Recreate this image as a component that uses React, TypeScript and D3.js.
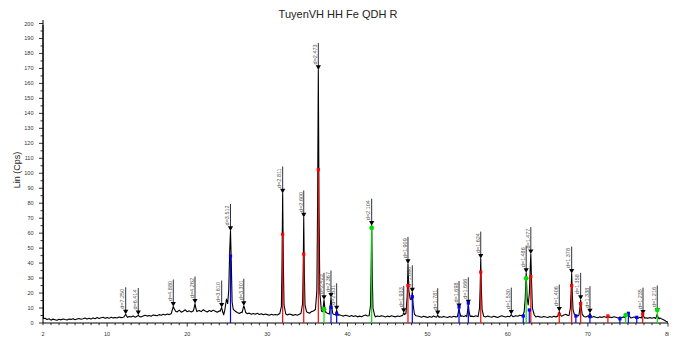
import React from 'react';
import * as d3 from 'd3';

const TITLE = 'TuyenVH HH Fe QDH R';
const Y_LABEL = 'Lin (Cps)';
const xTickLabels = [2, 10, 20, 30, 40, 50, 60, 70, 80];
const yTickLabels = [0, 10, 20, 30, 40, 50, 60, 70, 80, 90, 100, 110, 120, 130, 140, 150, 160, 170, 180, 190, 200];

// scan start (detector overflow at the first step)
const scanStart: [number, number][] = [[2.0, 199], [2.06, 3.0]];

// background counts sampled every 0.25 deg from 2.25 to 80
const backgroundStart = 2.25;
const backgroundStep = 0.25;
const backgroundCps = [
  3.2, 2.4, 2.8, 1.9, 2.6, 2.2, 1.8, 2.5, 2.1, 2.7,
  2.3, 2.0, 2.6, 2.4, 2.9, 2.2, 2.7, 3.0, 2.5, 2.8,
  3.3, 2.6, 3.1, 2.7, 3.4, 2.9, 3.6, 3.0, 3.5, 3.8,
  3.2, 3.6, 3.1, 3.9, 3.4, 3.7, 3.3, 4.0, 3.6, 3.8,
  4.2, 3.7, 4.4, 4.0, 4.6, 3.9, 4.3, 4.8, 4.1, 4.7,
  5.2, 4.6, 5.0, 4.5, 5.4, 5.1, 4.8, 5.6, 5.2, 5.8,
  5.4, 6.0, 5.6, 6.2,
  7.0, 8.2, 7.4, 8.6, 7.2, 7.9, 8.8, 7.5, 8.1, 7.3,
  8.5, 9.1, 7.8, 8.4, 7.6, 8.9, 8.0, 7.4, 8.3, 7.7,
  8.6, 7.9, 7.2, 8.0,
  7.4, 8.0, 8.6, 9.0, 9.0, 8.5, 8.0, 7.8, 7.0, 6.4,
  7.2, 7.8, 7.0, 6.2, 6.6, 5.8, 6.4, 5.9, 6.5, 5.7,
  6.2, 5.5, 6.0, 5.6, 5.2, 5.8, 5.3, 5.7,
  5.4, 6.2, 5.8, 6.6, 5.9, 5.3, 6.0, 5.6, 5.1, 5.7,
  5.2, 5.8, 6.3, 5.5, 6.8, 7.2, 6.5, 7.6, 8.0, 8.8,
  9.0, 8.2, 7.0, 6.4, 7.1, 6.5, 5.8, 5.2, 5.9, 5.4,
  4.9, 5.5, 5.0, 4.6, 5.2, 4.8,
  4.4, 5.0, 4.3, 4.8, 4.1, 4.6, 4.2, 4.9, 5.3, 4.7,
  4.5, 5.0, 4.4, 4.1, 4.7, 4.3, 4.9, 4.5, 4.0, 4.6,
  4.2, 4.8, 4.4, 4.1, 4.7, 4.3, 4.9, 5.4,
  6.0, 6.5, 6.0, 5.2, 4.6, 4.1, 4.7, 4.3, 3.9, 4.5,
  4.1, 3.7, 4.3, 3.9, 4.6, 4.0, 3.6, 4.2, 3.8, 4.4,
  4.0, 3.7, 4.3, 3.9, 4.5, 4.1, 4.6, 4.2,
  4.8, 4.4, 4.9, 4.3, 4.0, 4.6, 4.2, 4.8, 4.4, 4.1,
  3.8, 4.4, 4.0, 4.6, 4.2, 3.9, 4.5, 4.1, 3.7, 4.3,
  4.8, 4.4, 4.0, 4.5, 4.1, 3.8, 4.4, 4.9, 4.5, 5.2,
  4.8, 5.5,
  5.8, 6.0, 6.2, 5.2, 4.6, 4.0, 4.5, 4.1, 3.8, 4.4,
  4.0, 3.7, 4.3, 3.9, 4.5, 4.1, 4.7, 5.0, 4.6, 5.4,
  5.8, 5.0, 5.6, 5.2, 4.8, 5.3, 4.6, 4.2, 4.8, 4.4,
  4.0, 4.6,
  4.1, 3.8, 4.4, 3.9, 3.5, 4.1, 3.7, 4.3, 3.9, 3.5,
  4.0, 3.6, 4.2, 3.8, 3.4, 4.0, 3.6, 4.1, 3.7, 3.3,
  3.9, 3.5, 4.0, 3.6, 3.2, 3.8, 3.4, 3.9, 3.5, 3.1,
  3.6, 3.2, 3.7, 3.3, 2.9, 3.4, 2.6, 2.0, 1.2, 0.5,
];

// diffraction peak profiles [2theta, cps]
const peakProfiles: [number, number][][] = [
  [[12.1, 4.0], [12.22, 5.0], [12.32, 5.8], [12.42, 4.8], [12.55, 3.8]],
  [[13.7, 4.3], [13.8, 4.8], [13.89, 5.3], [13.98, 4.6], [14.1, 4.2]],
  [[18.0, 6.2], [18.15, 9.0], [18.26, 11.0], [18.38, 9.5], [18.55, 7.8]],
  [[20.75, 8.0], [20.88, 10.5], [20.97, 13.0], [21.07, 10.0], [21.2, 7.6]],
  [[24.1, 7.8], [24.2, 9.2], [24.3, 10.3], [24.42, 7.5], [24.55, 5.5], [24.7, 9.0], [24.9, 16.0], [25.05, 13.0], [25.18, 22.0], [25.3, 48.0], [25.4, 61.5], [25.5, 40.0], [25.6, 14.0], [25.75, 9.0], [25.9, 8.4]],
  [[26.85, 7.0], [26.96, 9.5], [27.06, 11.5], [27.16, 9.8], [27.3, 7.0]],
  [[31.55, 6.2], [31.75, 11.0], [31.83, 40.0], [31.91, 86.5], [32.0, 38.0], [32.08, 12.0], [32.3, 6.0]],
  [[34.2, 6.5], [34.4, 13.0], [34.47, 35.0], [34.54, 70.5], [34.62, 32.0], [34.7, 12.0], [34.9, 7.5]],
  [[36.0, 9.0], [36.18, 22.0], [36.27, 80.0], [36.36, 169.0], [36.45, 75.0], [36.55, 20.0], [36.75, 8.0]],
  [[36.9, 7.5], [37.0, 12.0], [37.07, 15.5], [37.15, 11.0], [37.3, 7.0]],
  [[37.75, 6.0], [37.86, 12.0], [37.94, 17.0], [38.02, 12.0], [38.15, 6.5]],
  [[38.5, 5.5], [38.58, 7.2], [38.65, 8.5], [38.73, 7.0], [38.85, 5.2]],
  [[42.7, 4.8], [42.88, 12.0], [42.95, 35.0], [43.02, 65.0], [43.1, 30.0], [43.18, 10.0], [43.4, 5.0]],
  [[46.85, 4.9], [46.95, 5.8], [47.02, 6.8], [47.12, 5.6], [47.3, 6.5], [47.45, 18.0], [47.55, 39.5], [47.65, 22.0], [47.82, 16.0], [47.95, 15.5], [48.09, 20.5], [48.2, 12.0], [48.35, 6.0], [48.55, 4.8]],
  [[51.1, 3.9], [51.18, 4.5], [51.26, 5.2], [51.34, 4.4], [51.45, 3.8]],
  [[53.72, 4.2], [53.84, 7.5], [53.92, 10.0], [54.0, 7.0], [54.15, 4.3]],
  [[54.88, 4.3], [55.0, 8.5], [55.08, 12.5], [55.17, 8.0], [55.3, 4.4]],
  [[56.3, 4.3], [56.48, 10.0], [56.56, 24.0], [56.63, 43.0], [56.71, 22.0], [56.8, 9.0], [57.0, 4.5]],
  [[60.25, 4.2], [60.36, 5.0], [60.44, 5.6], [60.52, 4.9], [60.65, 4.2]],
  [[61.9, 5.2], [62.05, 7.5], [62.18, 16.0], [62.3, 33.5], [62.42, 17.0], [62.55, 12.0], [62.7, 20.0], [62.8, 36.0], [62.88, 46.0], [62.97, 28.0], [63.08, 10.0], [63.3, 5.5]],
  [[66.25, 4.6], [66.35, 6.2], [66.43, 7.6], [66.51, 6.0], [66.65, 4.8]],
  [[67.65, 5.0], [67.82, 10.0], [67.9, 20.0], [67.98, 33.0], [68.06, 19.0], [68.15, 9.0], [68.3, 6.0]],
  [[68.9, 5.5], [69.0, 10.0], [69.1, 15.5], [69.18, 10.0], [69.3, 5.8]],
  [[70.1, 4.3], [70.18, 5.5], [70.26, 6.5], [70.34, 5.3], [70.45, 4.1]],
  [[72.35, 3.6], [72.5, 5.0], [72.65, 3.7]],
  [[74.55, 3.6], [74.72, 5.2], [74.88, 5.0], [75.05, 6.2], [75.2, 4.4], [75.35, 3.4]],
  [[76.65, 3.3], [76.78, 4.6], [76.88, 5.6], [76.98, 4.4], [77.1, 3.2]],
  [[78.45, 3.0], [78.55, 4.2], [78.66, 5.8], [78.76, 3.8], [78.9, 2.8]],
];

// peak search markers: [2theta, cps at marker tip, label]
const peakLabels: [number, number, string][] = [
  [12.32, 5.8, 'd=7.250'],
  [13.89, 5.3, 'd=6.414'],
  [18.26, 11.0, 'd=4.880'],
  [20.97, 13.0, 'd=4.262'],
  [24.3, 10.3, 'd=3.610'],
  [25.4, 61.5, 'd=3.512'],
  [27.06, 11.5, 'd=3.301'],
  [31.91, 86.5, 'd=2.811'],
  [34.54, 70.5, 'd=2.600'],
  [36.36, 169.0, 'd=2.473'],
  [37.07, 15.5, 'd=2.423'],
  [37.94, 17.0, 'd=2.367'],
  [38.65, 8.5, 'd=2.331'],
  [43.02, 65.0, 'd=2.104'],
  [47.02, 6.8, 'd=1.933'],
  [47.55, 39.5, 'd=1.909'],
  [48.09, 20.5, 'd=1.890'],
  [51.26, 5.2, 'd=1.781'],
  [53.92, 10.0, 'd=1.698'],
  [55.08, 12.5, 'd=1.666'],
  [56.63, 43.0, 'd=1.624'],
  [60.44, 5.6, 'd=1.530'],
  [62.3, 33.5, 'd=1.486'],
  [62.88, 46.0, 'd=1.477'],
  [66.43, 7.6, 'd=1.406'],
  [67.98, 33.0, 'd=1.378'],
  [69.1, 15.5, 'd=1.358'],
  [70.26, 6.5, 'd=1.338'],
  [76.88, 5.6, 'd=1.235'],
  [78.66, 7.0, 'd=1.216'],
];

// reference phase sticks [2theta, cps]
const redPhase: [number, number][] = [
  [31.91, 59.3], [34.54, 46.0], [36.36, 102.5], [47.55, 25.0], [56.63, 34.0],
  [62.88, 31.0], [66.43, 5.8], [67.98, 25.0], [69.1, 13.0], [72.5, 4.7], [76.84, 6.0],
];
const bluePhase: [number, number][] = [
  [25.4, 44.7], [37.94, 10.5], [38.65, 6.0], [48.09, 17.5], [53.92, 10.7], [55.08, 13.3],
  [61.94, 4.7], [62.69, 8.7], [68.5, 4.7], [70.26, 4.2], [74.0, 2.8], [75.05, 6.5], [76.1, 3.8],
];
const greenPhase: [number, number][] = [
  [37.07, 9.1], [43.02, 63.5], [62.3, 29.8], [74.72, 5.3], [78.66, 8.7],
];

const W = 677;
const H = 338;
const FONT = "'Liberation Sans', Arial, Helvetica, sans-serif";

export default function App() {
  const x = d3.scaleLinear().domain([2, 80]).range([43, 668]);
  const y = d3.scaleLinear().domain([0, 200]).range([323, 23.5]);

  const bgPts: [number, number][] = backgroundCps.map((v, i) => [backgroundStart + i * backgroundStep, v]);
  const ranges = peakProfiles.map((p) => [p[0][0], p[p.length - 1][0]]);
  const kept = bgPts.filter(([t]) => !ranges.some(([a, b]) => t >= a && t <= b));
  const all: [number, number][] = [...scanStart, ...kept, ...peakProfiles.flat()].sort((a, b) => a[0] - b[0]);

  const line = d3.line<[number, number]>().x((d) => x(d[0])).y((d) => y(d[1]));
  const tracePath = line(all) || '';

  const xMinor = d3.range(2, 81, 1);
  const yMinor = d3.range(0, 201, 5);

  const stick = (data: [number, number][], color: string, kind: 'sq' | 'dot') =>
    data.map(([t, c], i) => (
      <g key={color + i}>
        <line x1={x(t)} x2={x(t)} y1={y(0)} y2={y(c)} stroke={color} strokeWidth={1.2} />
        {kind === 'sq' ? (
          <rect x={x(t) - 1.6} y={y(c) - 1.6} width={3.2} height={3.2} fill={color} />
        ) : (
          <circle cx={x(t)} cy={y(c)} r={2.4} fill={color} />
        )}
      </g>
    ));

  return (
    <svg
      width={W}
      height={H}
      style={{ position: 'absolute', left: 0, top: 0, background: '#fff', display: 'block' }}
      fontFamily={FONT}
    >
      <defs>
        <clipPath id="xlabclip">
          <rect x={0} y={0} width={669} height={H} />
        </clipPath>
      </defs>
      <rect width={W} height={H} fill="#fff" />
      <text x={338} y={18} textAnchor="middle" fontSize={11} fill="#222">
        {TITLE}
      </text>
      <text transform={`translate(20,170) rotate(-90)`} textAnchor="middle" fontSize={9} fill="#222">
        {Y_LABEL}
      </text>

      {/* y axis */}
      <line x1={43} x2={43} y1={y(0)} y2={20} stroke="#000" strokeWidth={1} />
      {yMinor.map((v) => (
        <line key={'yt' + v} x1={v % 10 === 0 ? 39 : 40.5} x2={43} y1={y(v)} y2={y(v)} stroke="#000" strokeWidth={0.8} />
      ))}
      {yTickLabels.map((v) => (
        <text key={'yl' + v} x={33.5} y={y(v) + 2} textAnchor="end" fontSize={5.5} fill="#333">
          {v}
        </text>
      ))}

      {/* x axis */}
      <line x1={43} x2={668} y1={y(0)} y2={y(0)} stroke="#000" strokeWidth={1} />
      {xMinor.map((v) => (
        <line key={'xt' + v} x1={x(v)} x2={x(v)} y1={y(0)} y2={y(0) + (v % 10 === 0 ? 3.5 : 2.2)} stroke="#000" strokeWidth={0.8} />
      ))}
      <g clipPath="url(#xlabclip)">
        {xTickLabels.map((v) => (
          <text key={'xl' + v} x={x(v)} y={336} textAnchor="middle" fontSize={5.5} fill="#333">
            {v}
          </text>
        ))}
      </g>

      {/* scan */}
      <path d={tracePath} fill="none" stroke="#000" strokeWidth={1.1} strokeLinejoin="round" />

      {/* peak markers */}
      {peakLabels.map(([t, c, lab], i) => {
        const px = x(t);
        const py = y(c);
        return (
          <g key={'pk' + i}>
            <line x1={px} x2={px} y1={py - 27} y2={py - 2} stroke="#333" strokeWidth={1} />
            <path d={`M${px - 2.6},${py - 4.6}L${px + 2.6},${py - 4.6}L${px},${py}Z`} fill="#000" />
            <text transform={`translate(${px - 1.2},${py - 5.5}) rotate(-90)`} fontSize={5.5} fill="#555">
              {lab}
            </text>
          </g>
        );
      })}

      {/* phase sticks */}
      {stick(redPhase, '#ff0000', 'sq')}
      {stick(bluePhase, '#0000ff', 'sq')}
      {stick(greenPhase, '#00e000', 'dot')}
    </svg>
  );
}
